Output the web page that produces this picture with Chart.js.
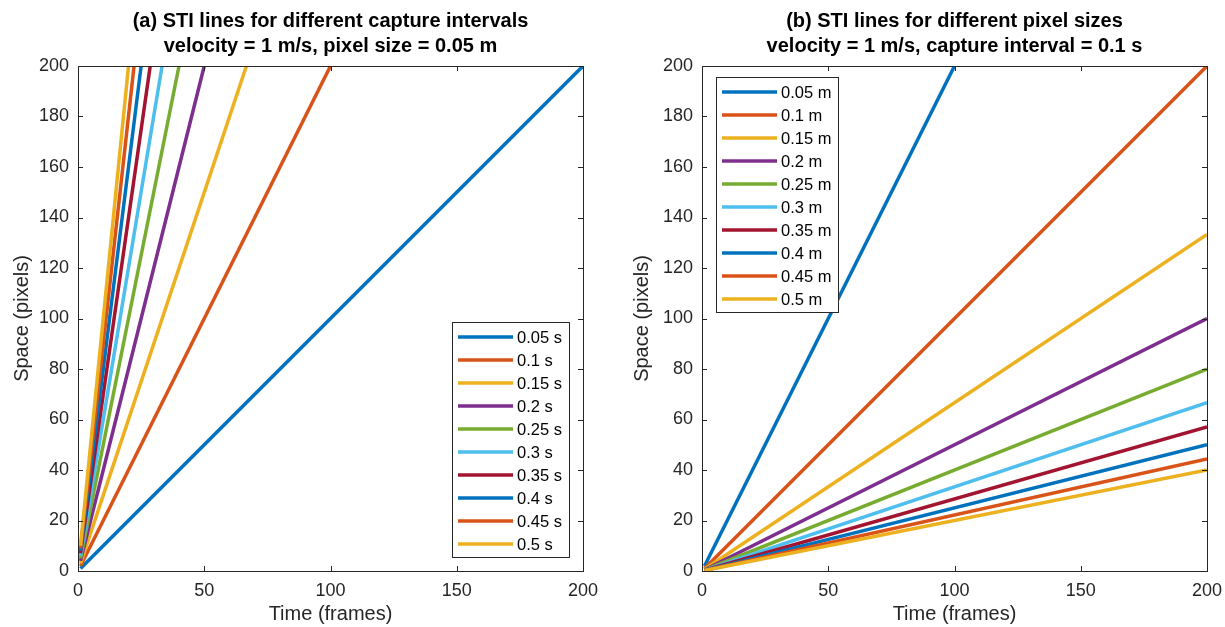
<!DOCTYPE html>
<html>
<head>
<meta charset="utf-8">
<script src="https://cdn.jsdelivr.net/npm/chart.js@4.4.0/dist/chart.umd.min.js"></script>
<style>
  html, body { margin: 0; padding: 0; background: #fff; }
  #wrap { position: relative; width: 1225px; height: 627px; }
  .panel { position: absolute; top: 0; height: 627px; }
</style>
</head>
<body>
<div id="wrap">
  <div class="panel" style="left:0;width:612px"><canvas id="chartA"></canvas></div>
  <div class="panel" style="left:620px;width:605px"><canvas id="chartB"></canvas></div>
</div>
<script>
// MATLAB default line colours
const colors = ['#0072BD', '#D95319', '#EDB120', '#7E2F8E', '#77AC30', '#4DBEEE', '#A2142F', '#0072BD', '#D95319', '#EDB120'];

// (a) capture intervals, pixel size 0.05 m
const intervalLabels = ['0.05 s', '0.1 s', '0.15 s', '0.2 s', '0.25 s', '0.3 s', '0.35 s', '0.4 s', '0.45 s', '0.5 s'];
const startXA = [1, 1, 1, 1, 1, 1, 1, 1, 1, 1];
const startYA = [1, 2, 3, 4, 5, 6, 7, 8, 9, 10];
const endXA = [200, 100, 66.7, 50, 40, 33.3, 28.6, 25, 22.2, 20];
const endYA = [200, 200, 200, 200, 200, 200, 200, 200, 200, 200];

// (b) pixel sizes, capture interval 0.1 s
const sizeLabels = ['0.05 m', '0.1 m', '0.15 m', '0.2 m', '0.25 m', '0.3 m', '0.35 m', '0.4 m', '0.45 m', '0.5 m'];
const startXB = [1, 1, 1, 1, 1, 1, 1, 1, 1, 1];
const startYB = [2, 1, 0.67, 0.5, 0.4, 0.33, 0.29, 0.25, 0.22, 0.2];
const endXB = [100, 200, 200, 200, 200, 200, 200, 200, 200, 200];
const endYB = [200, 200, 133.3, 100, 80, 66.7, 57.1, 50, 44.4, 40];

const xTicks = [0, 50, 100, 150, 200];
const yTicks = [0, 20, 40, 60, 80, 100, 120, 140, 160, 180, 200];

const FONT = 'Liberation Sans, Arial, Helvetica, sans-serif';
const INK = '#262626';

// box round the axes with inward ticks, like MATLAB
const boxPlugin = {
    id: 'box',
    afterDatasetsDraw(chart) {
        const { ctx, chartArea: a, scales } = chart;
        ctx.save();
        ctx.strokeStyle = INK;
        ctx.lineWidth = 1;
        ctx.strokeRect(a.left + 0.5, a.top + 0.5, a.right - a.left, a.bottom - a.top);
        const len = 5;
        ctx.beginPath();
        xTicks.forEach(v => {
            const x = Math.round(scales.x.getPixelForValue(v)) + 0.5;
            ctx.moveTo(x, a.bottom); ctx.lineTo(x, a.bottom - len);
            ctx.moveTo(x, a.top); ctx.lineTo(x, a.top + len);
        });
        yTicks.forEach(v => {
            const y = Math.round(scales.y.getPixelForValue(v)) + 0.5;
            ctx.moveTo(a.left, y); ctx.lineTo(a.left + len, y);
            ctx.moveTo(a.right, y); ctx.lineTo(a.right - len, y);
        });
        ctx.stroke();
        ctx.restore();
    }
};

// two-line bold title centred over the axes
const axesTitle = {
    id: 'axesTitle',
    afterDraw(chart, args, opts) {
        const { ctx, chartArea: a } = chart;
        const cx = (a.left + a.right) / 2;
        ctx.save();
        ctx.fillStyle = '#000';
        ctx.font = 'bold 20px ' + FONT;
        ctx.textAlign = 'center';
        ctx.textBaseline = 'middle';
        opts.lines.forEach((t, i) => ctx.fillText(t, cx, 21 + i * 25));
        ctx.restore();
    }
};

// legend box drawn inside the axes
const boxLegend = {
    id: 'boxLegend',
    afterDraw(chart, args, opts) {
        const { ctx } = chart;
        const sets = chart.data.datasets;
        ctx.save();
        ctx.fillStyle = '#fff';
        ctx.fillRect(opts.x, opts.y, opts.w, opts.h);
        ctx.strokeStyle = '#262626';
        ctx.lineWidth = 1;
        ctx.strokeRect(opts.x + 0.5, opts.y + 0.5, opts.w, opts.h);
        ctx.font = '16.5px ' + FONT;
        ctx.textBaseline = 'middle';
        sets.forEach((ds, i) => {
            const y = opts.y + opts.first + i * opts.step;
            ctx.strokeStyle = ds.borderColor;
            ctx.lineWidth = 3.5;
            ctx.beginPath();
            ctx.moveTo(opts.x + 6, y);
            ctx.lineTo(opts.x + 61, y);
            ctx.stroke();
            ctx.fillStyle = '#000';
            ctx.fillText(ds.label, opts.x + 65, y + 1);
        });
        ctx.restore();
    }
};

function makeSets(labels, sx, sy, ex, ey) {
    return labels.map((lab, i) => ({
        label: lab,
        data: [{ x: sx[i], y: sy[i] }, { x: ex[i], y: ey[i] }],
        borderColor: colors[i],
        backgroundColor: colors[i],
        borderWidth: 3.5,
        pointRadius: 0,
        showLine: true,
        order: labels.length - i
    }));
}

function makeChart(id, titleLines, sets, yWidth, padRight, legend) {
    return new Chart(document.getElementById(id), {
        type: 'scatter',
        data: { datasets: sets },
        options: {
            responsive: true,
            maintainAspectRatio: false,
            animation: false,
            layout: { padding: { top: 66, right: padRight, bottom: 0, left: 0 } },
            plugins: {
                legend: { display: false },
                tooltip: { enabled: false },
                title: { display: false },
                axesTitle: { lines: titleLines },
                boxLegend: legend
            },
            scales: {
                x: {
                    type: 'linear', min: 0, max: 200,
                    grid: { display: false, drawTicks: false },
                    border: { display: false },
                    afterBuildTicks: s => { s.ticks = xTicks.map(v => ({ value: v })); },
                    afterFit: s => { s.height = 56; s.paddingLeft = 0; s.paddingRight = 0; },
                    ticks: { color: INK, font: { family: FONT, size: 18 }, padding: 9, maxRotation: 0 },
                    title: { display: true, text: 'Time (frames)', color: INK, font: { family: FONT, size: 20 }, padding: { top: 0, bottom: 1 } }
                },
                y: {
                    type: 'linear', min: 0, max: 200,
                    grid: { display: false, drawTicks: false },
                    border: { display: false },
                    afterBuildTicks: s => { s.ticks = yTicks.map(v => ({ value: v })); },
                    afterFit: s => { s.width = yWidth; s.paddingTop = 0; s.paddingBottom = 0; },
                    ticks: { color: INK, font: { family: FONT, size: 18 }, padding: 9 },
                    title: { display: true, text: 'Space (pixels)', color: INK, font: { family: FONT, size: 20 }, padding: { top: 10, bottom: 0 } }
                }
            }
        },
        plugins: [boxPlugin, axesTitle, boxLegend]
    });
}

makeChart('chartA',
    ['(a) STI lines for different capture intervals', 'velocity = 1 m/s, pixel size = 0.05 m'],
    makeSets(intervalLabels, startXA, startYA, endXA, endYA),
    78, 29,
    { x: 452, y: 322, w: 117, h: 235, first: 15, step: 23 });

makeChart('chartB',
    ['(b) STI lines for different pixel sizes', 'velocity = 1 m/s, capture interval = 0.1 s'],
    makeSets(sizeLabels, startXB, startYB, endXB, endYB),
    82, 18,
    { x: 96, y: 77, w: 122, h: 235, first: 15, step: 23 });
</script>
</body>
</html>
